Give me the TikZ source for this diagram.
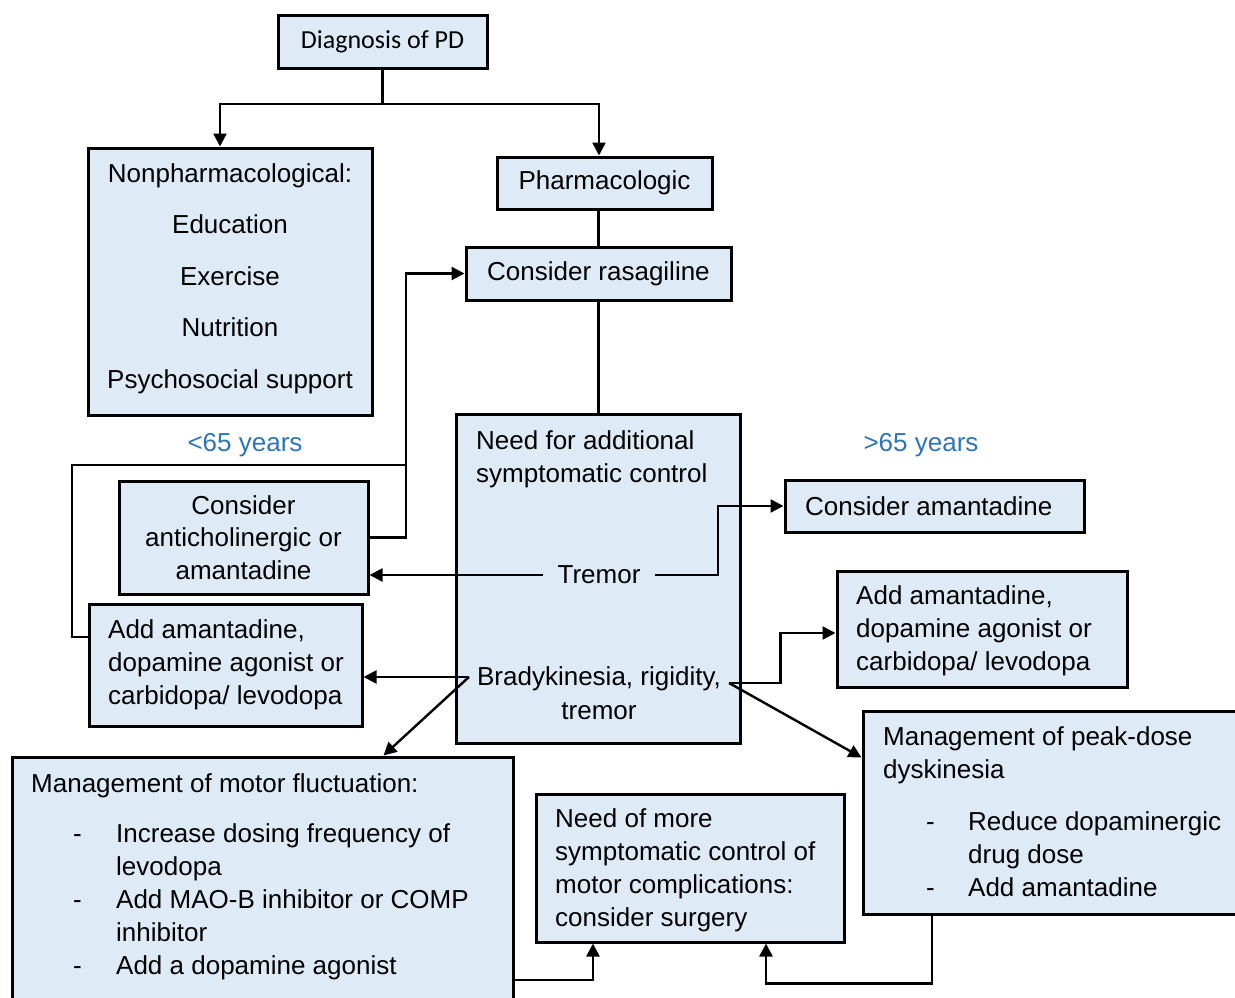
\documentclass[tikz,border=0pt]{standalone}
\usepackage{fontspec}
\setmainfont{Liberation Sans}
\newfontfamily\calibfont{Carlito}
\usetikzlibrary{arrows.meta}
\definecolor{boxfill}{HTML}{DEEBF7}
\definecolor{agecol}{HTML}{2E75B6}
\begin{document}
\begin{tikzpicture}[x=1pt,y=-1pt,
  box/.style={draw=black, line width=3pt, fill=boxfill, rectangle, inner sep=0pt, align=center, font=\fontsize{26}{32.5}\selectfont},
  txt/.style={inner sep=0pt, font=\fontsize{26}{33}\selectfont, align=left},
  conn/.style={draw=black, line width=2.4pt},
  arr/.style={conn, -{Triangle[length=13pt,width=13pt]}},
  age/.style={inner sep=0pt, text=agecol, font=\fontsize{26}{33}\selectfont}]
\useasboundingbox (0,0) rectangle (1235,998);
\clip (0,0) rectangle (1235,998);

% boxes
\node[box, minimum width=209pt, minimum height=53pt, font=\calibfont\fontsize{26}{32}\selectfont] (diag) at (382.5,42) {Diagnosis of PD};
\node[box, minimum width=284pt, minimum height=267pt] (nonph) at (230,281.5) {};
\node[txt, align=center, anchor=north, font=\fontsize{26}{51.5}\selectfont] (nonphtxt) at (230,163) {Nonpharmacological:\\Education\\Exercise\\Nutrition\\Psychosocial support};
\node[box, minimum width=215pt, minimum height=52pt] (pharm) at (604.5,183) {Pharmacologic};
\node[box, minimum width=265pt, minimum height=53pt] (rasag) at (598.5,273.5) {Consider rasagiline};
\node[box, minimum width=284pt, minimum height=329pt] (need) at (598,578.5) {};
\node[txt, anchor=north west] (needtxt) at (476,430) {Need for additional\\symptomatic control};
\node[txt, inner xsep=14pt] (tremor) at (599,575) {Tremor};
\node[txt, inner xsep=8pt] (brady) at (599,679) {Bradykinesia, rigidity,};
\node[txt] (brady2) at (599,711) {tremor};
\node[box, minimum width=249pt, minimum height=113pt] (anti) at (243.5,537.5) {Consider\\anticholinergic or\\amantadine};
\node[box, minimum width=273pt, minimum height=122pt] (addL) at (225.5,665) {};
\node[txt, anchor=north west] (addLtxt) at (108,619) {Add amantadine,\\dopamine agonist or\\carbidopa/ levodopa};
\node[box, minimum width=299pt, minimum height=52pt] (amantR) at (934.5,506) {};
\node[txt, anchor=west] (amantRtxt) at (805,506) {Consider amantadine};
\node[box, minimum width=290pt, minimum height=116pt] (addR) at (982,629) {};
\node[txt, anchor=north west] (addRtxt) at (856,585) {Add amantadine,\\dopamine agonist or\\carbidopa/ levodopa};
\node[box, minimum width=501pt, minimum height=248pt] (mmf) at (262.5,881) {};
\node[txt, anchor=north west] (mmftxt) at (31,773) {Management of motor fluctuation:\\[17pt]
 \hspace*{42pt}\makebox[43pt][l]{-}Increase dosing frequency of\\
 \hspace*{85pt}levodopa\\
 \hspace*{42pt}\makebox[43pt][l]{-}Add MAO-B inhibitor or COMP\\
 \hspace*{85pt}inhibitor\\
 \hspace*{42pt}\makebox[43pt][l]{-}Add a dopamine agonist};
\node[box, minimum width=308pt, minimum height=148pt] (need2) at (690,868) {};
\node[txt, anchor=north west] (need2txt) at (555,808) {Need of more\\symptomatic control of\\motor complications:\\consider surgery};
\node[box, minimum width=382pt, minimum height=203pt] (peak) at (1054,812.5) {};
\node[txt, anchor=north west] (peaktxt) at (883,726) {Management of peak-dose\\dyskinesia\\[19pt]
 \hspace*{43pt}\makebox[42pt][l]{-}Reduce dopaminergic\\
 \hspace*{85pt}drug dose\\
 \hspace*{43pt}\makebox[42pt][l]{-}Add amantadine};

% age labels
\node[age] (young) at (245,445) {<65 years};
\node[age] (old) at (921,445) {>65 years};

% connectors
\coordinate (j1) at (382.5,104);
\draw[conn] (diag.south) -- (j1);
\draw[arr] (j1) -| ([xshift=-10pt]nonph.north);
\draw[arr] (j1) -| ([xshift=-5.5pt]pharm.north);
\draw[conn] (rasag.north) -- (rasag.north |- pharm.south);
\draw[conn] (rasag.south) -- (rasag.south |- need.north);

\coordinate (k) at (406,465);
\draw[arr] (anti.east) -| (k) |- (rasag.west);
\coordinate (c637) at (0,637);
\draw[conn] (k) -- (72,465) |- (addL.west |- c637);

\draw[arr] (tremor.west) -- (tremor.west -| anti.east);
\coordinate (t1) at (718,506);
\draw[arr] (tremor.east) -| (t1) -- (amantR.west);

\coordinate (bL) at ([yshift=2pt]brady.west);
\draw[arr] (bL) -- (bL -| addL.east);
\draw[arr] (bL) -- ([xshift=373pt]mmf.north west);
\coordinate (bR) at ([yshift=-4pt]brady.east);
\draw[arr] (bR) -| ([xshift=-55pt,yshift=-4pt]addR.west) -- ([yshift=-4pt]addR.west);
\draw[arr] (bR) -- ([yshift=55pt]peak.west);

\draw[arr] ([yshift=-99pt]mmf.east) -| ([xshift=-97pt]need2.south);
\draw[arr] ([xshift=-122pt]peak.south) |- ([xshift=76pt,yshift=-40pt]need2.south) -- ([xshift=76pt]need2.south);
\end{tikzpicture}
\end{document}
